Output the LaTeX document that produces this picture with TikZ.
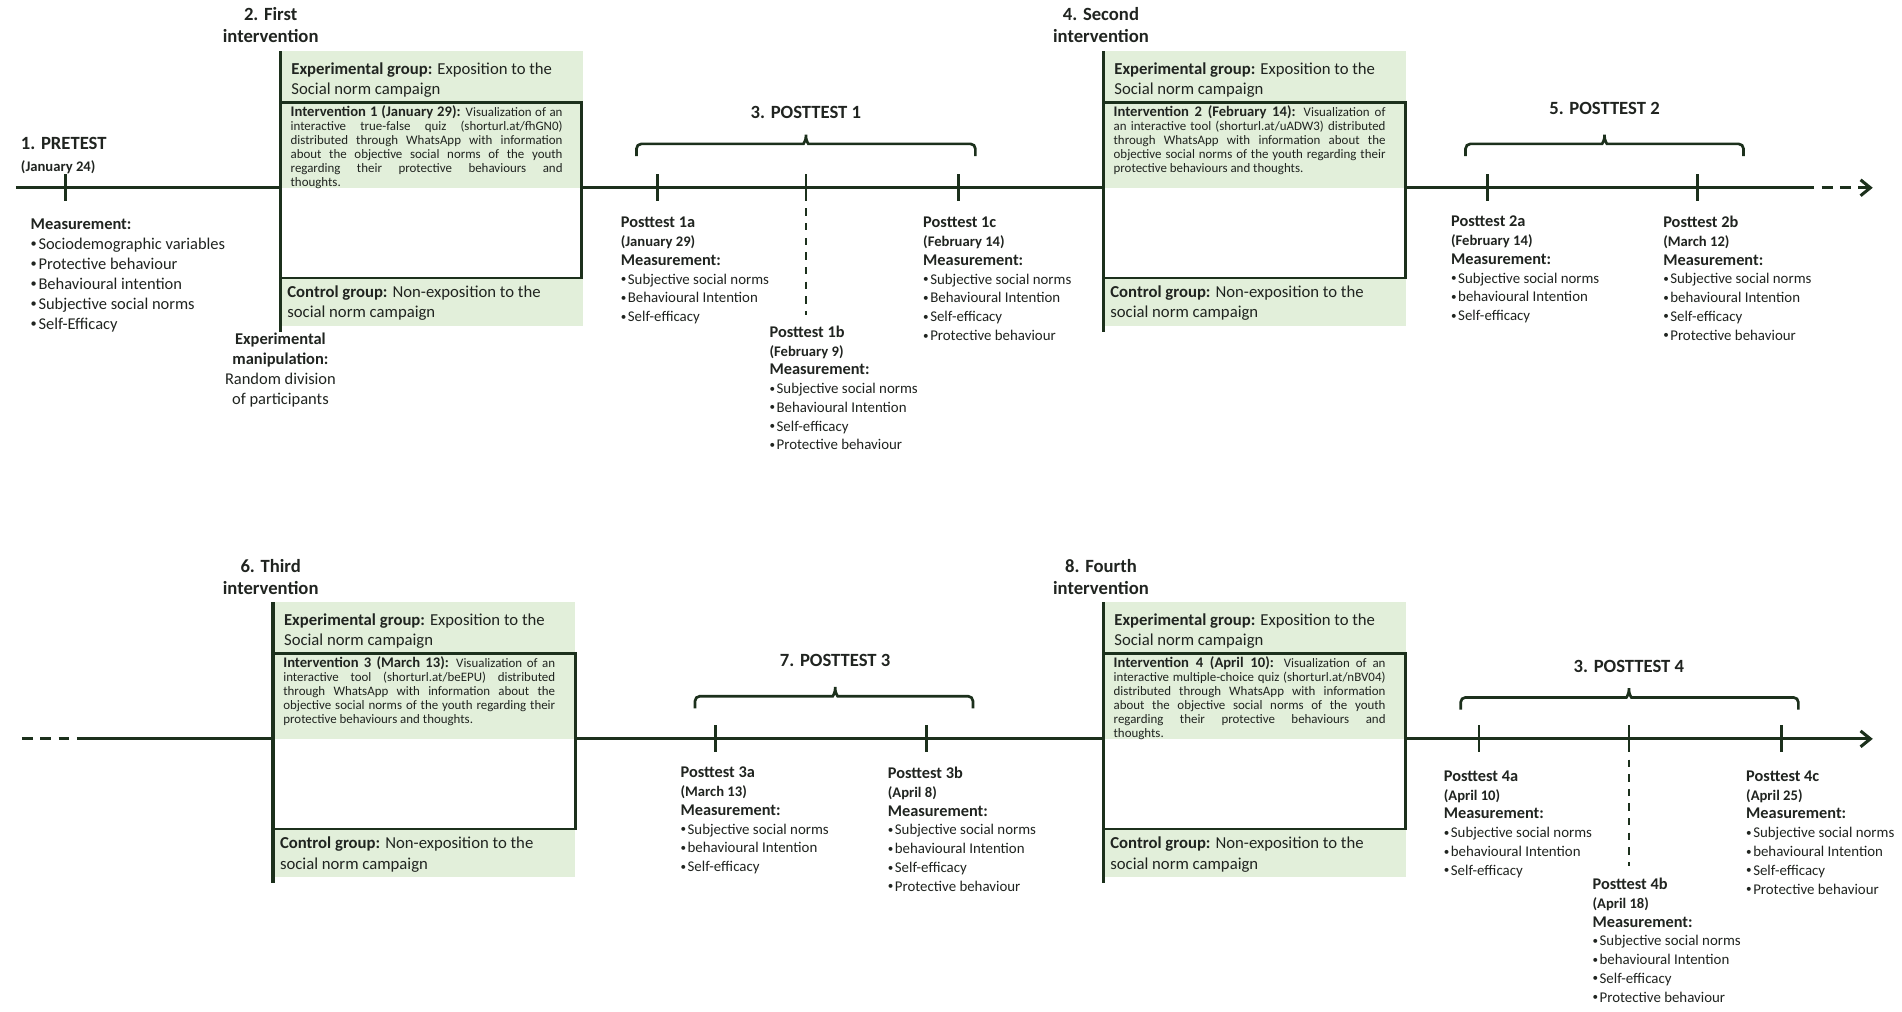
\documentclass[tikz,border=0pt]{standalone}
\usepackage{fontspec}
\usepackage{graphicx}
\setmainfont{Carlito}
\usetikzlibrary{positioning,arrows.meta}
\definecolor{linegreen}{RGB}{28,48,28}
\definecolor{groupgreen}{RGB}{226,239,218}
\definecolor{textdark}{RGB}{32,36,32}
\tolerance=10000
\hbadness=10000
\newcommand{\ptname}[1]{{\bfseries\fontsize{13.4}{15.4}\selectfont #1}}
\newcommand{\ptdate}[1]{{\bfseries\fontsize{12}{15.4}\selectfont #1}}
\newcommand{\intlabel}[1]{{\bfseries\fontsize{12}{11.5}\selectfont #1}}
\newcommand{\bul}{\raisebox{0.1em}{\scalebox{0.75}{•}}\hspace{0.1em}}

\begin{document}
\begin{tikzpicture}[
    x=1pt, y=-1pt,
    tline/.style={draw=linegreen, line width=2.5pt},
    tick/.style={draw=linegreen, line width=2.2pt},
    dashtick/.style={tick, dash pattern=on 6pt off 6pt},
    boxline/.style={draw=linegreen, line width=2.2pt},
    vline/.style={draw=linegreen, line width=2.7pt},
    brace/.style={draw=linegreen, line width=2.2pt, rounded corners=4pt},
    groupfill/.style={fill=groupgreen},
    head/.style={font=\bfseries\fontsize{15.3}{18.5}\selectfont, align=center, inner sep=0pt, text=textdark},
    grouptext/.style={anchor=north west, align=left, inner sep=0pt, font=\fontsize{13.7}{17}\selectfont, text=textdark},
    inttext/.style={anchor=north west, inner sep=0pt, text width=223pt, align=justify, font=\fontsize{10.6}{11.5}\selectfont, text=textdark},
    bigmeas/.style={anchor=north west, align=left, inner sep=0pt, font=\fontsize{13.5}{16.4}\selectfont, text=textdark},
    meas/.style={anchor=north west, align=left, inner sep=0pt, font=\fontsize{12.2}{15.4}\selectfont, text=textdark}
]
\useasboundingbox (0,0) rectangle (1560,830);
\fill[white] (0,0) rectangle (1560,830);

% intervention 1
\begin{scope}[shift={(230,42)}]
\fill[groupfill] (0,0) rectangle (248,112);
\fill[groupfill] (0,186) rectangle (248,225);
\draw[boxline] (0,42) rectangle (247,186);
\draw[vline] (0,0) -- (0,230);
\node[grouptext] (int1 exp) at (8.8,9) {\textbf{Experimental group:} Exposition to the\\Social norm campaign};
\node[inttext] (int1 txt) at (8.2,44.5) {\intlabel{Intervention 1 (January 29):} Visualization of an\linebreak interactive true-false quiz (shorturl.at/fhGN0)\linebreak distributed through WhatsApp with information\linebreak about the objective social norms of the youth\linebreak regarding their protective behaviours and\linebreak thoughts.};
\node[grouptext] (int1 ctl) at (5.5,192) {\textbf{Control group:} Non-exposition to the\\social norm campaign};
\end{scope}

% intervention 2
\begin{scope}[shift={(905,42)}]
\fill[groupfill] (0,0) rectangle (248,112);
\fill[groupfill] (0,186) rectangle (248,225);
\draw[boxline] (0,42) rectangle (248,186);
\draw[vline] (0,0) -- (0,230);
\node[grouptext] (int2 exp) at (8.8,9) {\textbf{Experimental group:} Exposition to the\\Social norm campaign};
\node[inttext] (int2 txt) at (8.2,44.5) {\intlabel{Intervention 2 (February 14):} Visualization of\linebreak an interactive tool (shorturl.at/uADW3) distributed\linebreak through WhatsApp with information about the\linebreak objective social norms of the youth regarding their\linebreak protective behaviours and thoughts.};
\node[grouptext] (int2 ctl) at (5.5,192) {\textbf{Control group:} Non-exposition to the\\social norm campaign};
\end{scope}

% intervention 3
\begin{scope}[shift={(224,494)}]
\fill[groupfill] (0,0) rectangle (248,112);
\fill[groupfill] (0,186) rectangle (248,225);
\draw[boxline] (0,42) rectangle (248,186);
\draw[vline] (0,0) -- (0,230);
\node[grouptext] (int3 exp) at (8.8,9) {\textbf{Experimental group:} Exposition to the\\Social norm campaign};
\node[inttext] (int3 txt) at (8.2,44.5) {\intlabel{Intervention 3 (March 13):} Visualization of an\linebreak interactive tool (shorturl.at/beEPU) distributed\linebreak through WhatsApp with information about the\linebreak objective social norms of the youth regarding their\linebreak protective behaviours and thoughts.};
\node[grouptext] (int3 ctl) at (5.5,192) {\textbf{Control group:} Non-exposition to the\\social norm campaign};
\end{scope}

% intervention 4
\begin{scope}[shift={(905,494)}]
\fill[groupfill] (0,0) rectangle (248,112);
\fill[groupfill] (0,186) rectangle (248,225);
\draw[boxline] (0,42) rectangle (248,186);
\draw[vline] (0,0) -- (0,230);
\node[grouptext] (int4 exp) at (8.8,9) {\textbf{Experimental group:} Exposition to the\\Social norm campaign};
\node[inttext] (int4 txt) at (8.2,44.5) {\intlabel{Intervention 4 (April 10):} Visualization of an\linebreak interactive multiple-choice quiz (shorturl.at/nBV04)\linebreak distributed through WhatsApp with information\linebreak about the objective social norms of the youth\linebreak regarding their protective behaviours and\linebreak thoughts.};
\node[grouptext] (int4 ctl) at (5.5,192) {\textbf{Control group:} Non-exposition to the\\social norm campaign};
\end{scope}

\node[head, anchor=north] (first) at (222,5.5) {2. First\\intervention};
\node[head, anchor=north] (second) at (903,5.5) {4. Second\\intervention};
\node[head, anchor=north] (third) at (222,458.5) {6. Third\\intervention};
\node[head, anchor=north] (fourth) at (903,458.5) {8. Fourth\\intervention};

% time lines
\coordinate (t start) at (13,154);
\coordinate (int1 in) at (230,154);
\coordinate (int1 out) at (478,154);
\coordinate (int2 in) at (905,154);
\coordinate (int2 out) at (1153,154);
\coordinate (t dash) at (1479,154);
\coordinate (t end) at (1536,154);
\coordinate (b start) at (18,606);
\coordinate (b solid) at (66,606);
\coordinate (int3 in) at (224,606);
\coordinate (int3 out) at (472,606);
\coordinate (int4 in) at (905,606);
\coordinate (int4 out) at (1153,606);
\coordinate (b end) at (1536,606);

\draw[tline] (t start) -- (int1 in);
\draw[tline] (int1 out) -- (int2 in);
\draw[tline] (int2 out) -- (t dash);
\draw[tline, dash pattern=on 9pt off 6pt, -{Straight Barb[length=8pt,width=13pt]}] (t dash) -- (t end);
\draw[tline, dash pattern=on 9pt off 6pt] (b start) -- (b solid);
\draw[tline] (b solid) -- (int3 in);
\draw[tline] (int3 out) -- (int4 in);
\draw[tline, -{Straight Barb[length=8pt,width=13pt]}] (int4 out) -- (b end);

\foreach \x in {54,539,661,786,1220,1392}
  \draw[tick] (\x,143) -- (\x,165);
\foreach \x in {587,760,1213,1336,1461}
  \draw[tick] (\x,595) -- (\x,617);
\draw[dashtick] (661,171) -- (661,258);
\draw[dashtick] (1336,623) -- (1336,710);

% brackets
\draw[brace] (522,128) -- (522,118) -- (655,118) .. controls (659,118) and (661,115) .. (661,108) .. controls (661,115) and (663,118) .. (667,118) -- (800,118) -- (800,128);
\draw[brace] (1202,128) -- (1202,118) -- (1310,118) .. controls (1314,118) and (1316,115) .. (1316,108) .. controls (1316,115) and (1318,118) .. (1322,118) -- (1430,118) -- (1430,128);
\draw[brace] (570,581) -- (570,571) -- (679,571) .. controls (683,571) and (685,568) .. (685,561) .. controls (685,568) and (687,571) .. (691,571) -- (798,571) -- (798,581);
\draw[brace] (1198,582) -- (1198,572) -- (1330,572) .. controls (1334,572) and (1336,569) .. (1336,562) .. controls (1336,569) and (1338,572) .. (1342,572) -- (1475,572) -- (1475,582);

\node[head] (pt1 title) at (661,92) {3. POSTTEST 1};
\node[head] (pt2 title) at (1316,89) {5. POSTTEST 2};
\node[head] (pt3 title) at (685,542) {7. POSTTEST 3};
\node[head] (pt4 title) at (1336,547) {3. POSTTEST 4};

% pretest
\node[head, anchor=west] (pretest) at (17,118) {1. PRETEST};
\node[anchor=north west, inner sep=0pt, text=textdark] (pretest date) at ([yshift=-8pt]pretest.south west) {\ptdate{(January 24)}};
\node[bigmeas] (pretest meas) at (25,179) {\textbf{Measurement:}\\\bul Sociodemographic variables\\\bul Protective behaviour\\\bul Behavioural intention\\\bul Subjective social norms\\\bul Self-Efficacy};
\node[bigmeas, anchor=north, align=center] (manip) at (230,273) {\textbf{Experimental}\\\textbf{manipulation:}\\Random division\\of participants};

% posttests
\node[meas] (pt1a) at (509,178) {\ptname{Posttest 1a}\\\ptdate{(January 29)}\\\ptname{Measurement:}\\\bul Subjective social norms\\\bul Behavioural Intention\\\bul Self-efficacy};
\node[meas] (pt1b) at (631,267) {\ptname{Posttest 1b}\\\ptdate{(February 9)}\\\ptname{Measurement:}\\\bul Subjective social norms\\\bul Behavioural Intention\\\bul Self-efficacy\\\bul Protective behaviour};
\node[meas] (pt1c) at (757,178) {\ptname{Posttest 1c}\\\ptdate{(February 14)}\\\ptname{Measurement:}\\\bul Subjective social norms\\\bul Behavioural Intention\\\bul Self-efficacy\\\bul Protective behaviour};
\node[meas] (pt2a) at (1190,177) {\ptname{Posttest 2a}\\\ptdate{(February 14)}\\\ptname{Measurement:}\\\bul Subjective social norms\\\bul behavioural Intention\\\bul Self-efficacy};
\node[meas] (pt2b) at (1364,177) {\ptname{Posttest 2b}\\\ptdate{(March 12)}\\\ptname{Measurement:}\\\bul Subjective social norms\\\bul behavioural Intention\\\bul Self-efficacy\\\bul Protective behaviour};
\node[meas] (pt3a) at (558,629) {\ptname{Posttest 3a}\\\ptdate{(March 13)}\\\ptname{Measurement:}\\\bul Subjective social norms\\\bul behavioural Intention\\\bul Self-efficacy};
\node[meas] (pt3b) at (728,629) {\ptname{Posttest 3b}\\\ptdate{(April 8)}\\\ptname{Measurement:}\\\bul Subjective social norms\\\bul behavioural Intention\\\bul Self-efficacy\\\bul Protective behaviour};
\node[meas] (pt4a) at (1184,632) {\ptname{Posttest 4a}\\\ptdate{(April 10)}\\\ptname{Measurement:}\\\bul Subjective social norms\\\bul behavioural Intention\\\bul Self-efficacy};
\node[meas] (pt4b) at (1306,720) {\ptname{Posttest 4b}\\\ptdate{(April 18)}\\\ptname{Measurement:}\\\bul Subjective social norms\\\bul behavioural Intention\\\bul Self-efficacy\\\bul Protective behaviour};
\node[meas] (pt4c) at (1432,632) {\ptname{Posttest 4c}\\\ptdate{(April 25)}\\\ptname{Measurement:}\\\bul Subjective social norms\\\bul behavioural Intention\\\bul Self-efficacy\\\bul Protective behaviour};

\end{tikzpicture}
\end{document}
